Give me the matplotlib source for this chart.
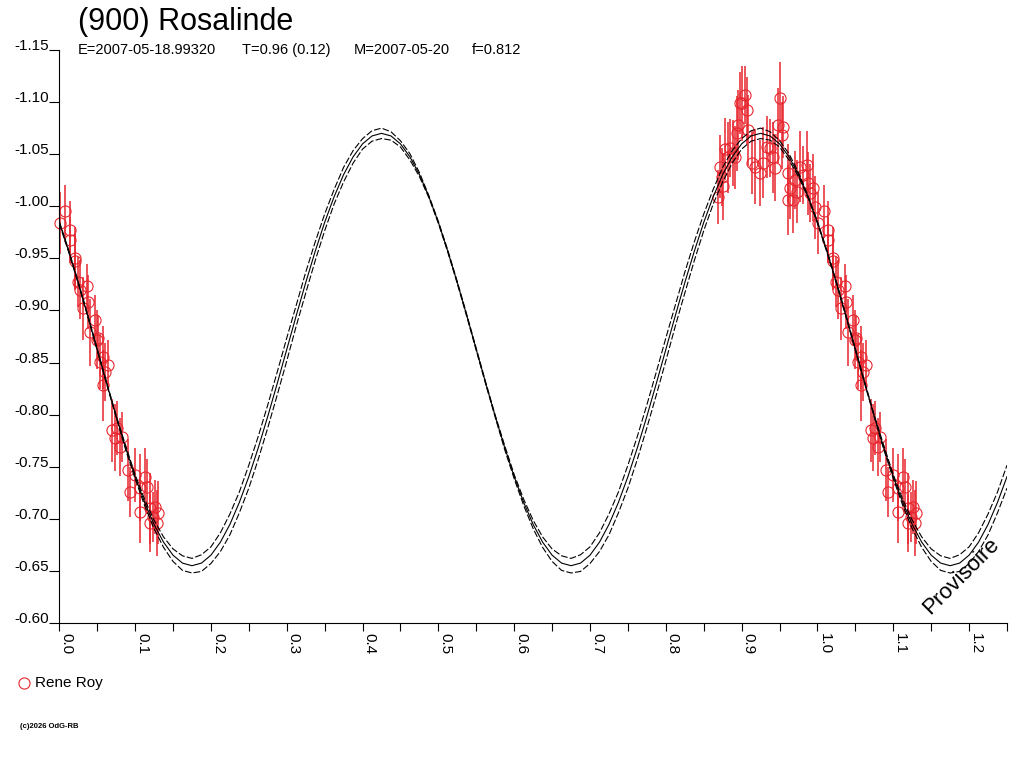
import numpy as np
import matplotlib.pyplot as plt
from matplotlib.lines import Line2D
from matplotlib.ticker import MultipleLocator

plt.rcParams['font.family'] = ['Liberation Sans', 'DejaVu Sans']
plt.rcParams['axes.unicode_minus'] = False

# fitted lightcurve, sampled every 0.0125 in phase (0 .. 1.25)
fit_mag = [
    -0.9845, -0.9567, -0.9266, -0.8950, -0.8625, -0.8300, -0.7984, -0.7683, -0.7405, -0.7158,
    -0.6946, -0.6776, -0.6651, -0.6575, -0.6550, -0.6575, -0.6651, -0.6776, -0.6946, -0.7158,
    -0.7405, -0.7683, -0.7984, -0.8300, -0.8625, -0.8950, -0.9266, -0.9567, -0.9845, -1.0092,
    -1.0304, -1.0474, -1.0599, -1.0675, -1.0700, -1.0675, -1.0599, -1.0474, -1.0304, -1.0092,
    -0.9845, -0.9567, -0.9266, -0.8950, -0.8625, -0.8300, -0.7984, -0.7683, -0.7405, -0.7158,
    -0.6946, -0.6776, -0.6651, -0.6575, -0.6550, -0.6575, -0.6651, -0.6776, -0.6946, -0.7158,
    -0.7405, -0.7683, -0.7984, -0.8300, -0.8625, -0.8950, -0.9266, -0.9567, -0.9845, -1.0092,
    -1.0304, -1.0474, -1.0599, -1.0675, -1.0700, -1.0675, -1.0599, -1.0474, -1.0304, -1.0092,
    -0.9845, -0.9567, -0.9266, -0.8950, -0.8625, -0.8300, -0.7984, -0.7683, -0.7405, -0.7158,
    -0.6946, -0.6776, -0.6651, -0.6575, -0.6550, -0.6575, -0.6651, -0.6776, -0.6946, -0.7158,
    -0.7405]
# half-width of the dashed uncertainty envelope
fit_spread = [
    0.001, 0.001, 0.001, 0.001, 0.001, 0.001, 0.001, 0.002, 0.002, 0.003,
    0.004, 0.005, 0.006, 0.007, 0.007, 0.008, 0.008, 0.009, 0.010, 0.010,
    0.011, 0.011, 0.011, 0.011, 0.011, 0.010, 0.010, 0.009, 0.008, 0.007,
    0.007, 0.006, 0.005, 0.005, 0.005, 0.004, 0.003, 0.003, 0.002, 0.001,
    0.001, 0.001, 0.001, 0.001, 0.001, 0.001, 0.001, 0.002, 0.002, 0.003,
    0.004, 0.005, 0.006, 0.007, 0.007, 0.008, 0.008, 0.009, 0.010, 0.010,
    0.011, 0.011, 0.011, 0.011, 0.011, 0.010, 0.010, 0.009, 0.008, 0.007,
    0.007, 0.006, 0.005, 0.005, 0.005, 0.004, 0.003, 0.003, 0.002, 0.001,
    0.001, 0.001, 0.001, 0.001, 0.001, 0.001, 0.001, 0.002, 0.002, 0.003,
    0.004, 0.005, 0.006, 0.007, 0.007, 0.008, 0.008, 0.009, 0.010, 0.010,
    0.011]

# Rene Roy observations
obs_phase = [
    0.001, 0.008, 0.014, 0.014, 0.021, 0.021, 0.025, 0.027, 0.036, 0.031,
    0.038, 0.040, 0.047, 0.050, 0.051, 0.058, 0.054, 0.064, 0.060, 0.058,
    0.070, 0.076, 0.073, 0.083, 0.080, 0.091, 0.100, 0.093, 0.106, 0.113,
    0.116, 0.106, 0.120, 0.126, 0.130, 0.120, 0.129, 0.124,
    0.869, 0.872, 0.874, 0.876, 0.878, 0.882, 0.885, 0.889, 0.891, 0.894,
    0.895, 0.898, 0.901, 0.905, 0.907, 0.909, 0.914, 0.918, 0.924, 0.928,
    0.933, 0.937, 0.941, 0.944, 0.948, 0.951, 0.953, 0.955, 0.961, 0.961,
    0.964, 0.968, 0.971, 0.973, 0.977, 0.981, 0.986, 0.988, 0.990, 0.994,
    0.997]
obs_mag = [
    -0.984, -0.995, -0.977, -0.968, -0.950, -0.947, -0.927, -0.920, -0.923, -0.902,
    -0.908, -0.879, -0.891, -0.872, -0.874, -0.855, -0.851, -0.848, -0.841, -0.828,
    -0.785, -0.787, -0.778, -0.779, -0.769, -0.747, -0.742, -0.726, -0.730, -0.740,
    -0.731, -0.707, -0.710, -0.711, -0.706, -0.696, -0.696, -0.702,
    -1.009, -1.038, -1.028, -1.019, -1.055, -1.047, -1.056, -1.051, -1.047, -1.070,
    -1.078, -1.099, -1.099, -1.107, -1.092, -1.073, -1.042, -1.038, -1.032, -1.042,
    -1.057, -1.056, -1.047, -1.037, -1.078, -1.104, -1.068, -1.076, -1.032, -1.006,
    -1.018, -1.006, -1.025, -1.014, -1.038, -1.030, -1.040, -1.022, -1.013, -1.018,
    -0.999]
obs_err = [
    0.030, 0.025, 0.028, 0.022, 0.030, 0.026, 0.024, 0.028, 0.022, 0.030,
    0.026, 0.032, 0.024, 0.028, 0.022, 0.030, 0.026, 0.024, 0.028, 0.034,
    0.030, 0.026, 0.032, 0.024, 0.028, 0.030, 0.026, 0.024, 0.032, 0.028,
    0.026, 0.030, 0.034, 0.026, 0.030, 0.028, 0.032, 0.024,
    0.026, 0.030, 0.028, 0.032, 0.030, 0.034, 0.028, 0.032, 0.030, 0.036,
    0.034, 0.030, 0.036, 0.028, 0.032, 0.034, 0.030, 0.036, 0.032, 0.034,
    0.030, 0.028, 0.034, 0.032, 0.036, 0.034, 0.032, 0.030, 0.028, 0.034,
    0.030, 0.032, 0.028, 0.030, 0.034, 0.028, 0.032, 0.030, 0.028, 0.032,
    0.030]

y_ticks = [-1.15, -1.10, -1.05, -1.00, -0.95, -0.90, -0.85, -0.80, -0.75, -0.70, -0.65, -0.60]
y_labels = ['-1.15', '-1.10', '-1.05', '-1.00', '-0.95', '-0.90', '-0.85', '-0.80',
            '-0.75', '-0.70', '-0.65', '-0.60']
x_ticks = [0.0, 0.1, 0.2, 0.3, 0.4, 0.5, 0.6, 0.7, 0.8, 0.9, 1.0, 1.1, 1.2]
x_labels = ['0.0', '0.1', '0.2', '0.3', '0.4', '0.5', '0.6', '0.7', '0.8', '0.9', '1.0', '1.1', '1.2']

title = '(900) Rosalinde'
info = ['E=2007-05-18.99320', 'T=0.96 (0.12)', 'M=2007-05-20', 'f=0.812']
observer = 'Rene Roy'
red = '#e8262e'

fig = plt.figure(figsize=(10.24, 7.68), dpi=100)
ax = fig.add_axes([0.0579, 0.1888, 0.9834 - 0.0579, 0.9349 - 0.1888])

fit_phase = np.linspace(0, 1.25, len(fit_mag))
fm = np.array(fit_mag)
fs = np.array(fit_spread)

ph = np.array(obs_phase)
mg = np.array(obs_mag)
er = np.array(obs_err)
for shift in (0.0, 1.0):
    sel = ph + shift <= 1.25
    ax.errorbar(ph[sel] + shift, mg[sel], yerr=er[sel], fmt='o', mfc='none', mec=red,
                ecolor=red, elinewidth=1.1, ms=8, mew=0.8, capsize=0, zorder=2,
                clip_on=False)

ax.plot(fit_phase, fm, color='black', lw=0.8, zorder=3)
ax.plot(fit_phase, fm - fs, color='black', lw=0.8, dashes=(6, 2), zorder=3)
ax.plot(fit_phase, fm + fs, color='black', lw=0.8, dashes=(6, 2), zorder=3)

ax.set_xlim(0, 1.25)
ax.set_ylim(-0.60, -1.15)
for s in ['top', 'right']:
    ax.spines[s].set_visible(False)
for s in ['left', 'bottom']:
    ax.spines[s].set_linewidth(0.8)

ax.set_yticks(y_ticks)
ax.set_yticklabels(y_labels, va='baseline', fontsize=11)
ax.tick_params(axis='y', length=7.2, width=0.8, pad=0)

ax.set_xticks(x_ticks)
ax.set_xticklabels(x_labels, rotation=270, ha='left', fontsize=11)
ax.xaxis.set_minor_locator(MultipleLocator(0.05))
ax.tick_params(axis='x', which='both', length=5.8, width=0.8, pad=1.5)

ax.text(1.189, -0.645, 'Provisoire', rotation=45, fontsize=16,
        ha='center', va='center', zorder=4)

fig.text(78 / 1024, 1 - 30 / 768, title, fontsize=22, va='baseline')
for txt, xp in zip(info, [78, 242, 354, 472]):
    fig.text(xp / 1024, 1 - 54 / 768, txt, fontsize=10.5, va='baseline')

fig.add_artist(Line2D([24 / 1024], [1 - 683 / 768], transform=fig.transFigure,
                      marker='o', ls='none', mfc='none', mec=red, ms=8, mew=0.8))
fig.text(35 / 1024, 1 - 683 / 768, observer, fontsize=11, va='center')
fig.text(20 / 1024, 1 - 726 / 768, '(c)2026 OdG-RB', fontsize=5.5, va='center',
         fontweight='bold')

fig.savefig('out.png', dpi=100)
